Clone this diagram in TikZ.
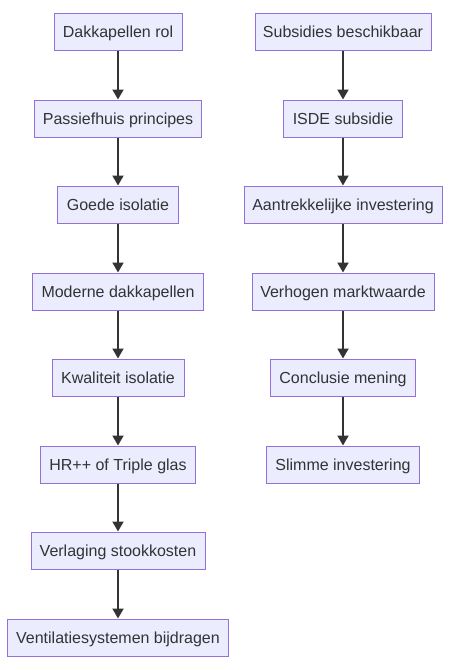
\documentclass[tikz,border=0pt]{standalone}
\usepackage{fontspec}
\setmainfont{Liberation Sans}
\usetikzlibrary{arrows.meta}
\definecolor{nodefill}{HTML}{ECECFF}
\definecolor{nodeline}{HTML}{9370DB}
\definecolor{txt}{HTML}{333333}
\tikzset{
  box/.style={draw=nodeline, fill=nodefill, line width=1pt, minimum height=37pt, inner sep=0pt, text height=11.5pt, text depth=0pt, text=txt, font=\fontsize{16pt}{19pt}\selectfont},
  conn/.style={draw=txt, line width=2pt, -{Triangle[width=11pt,length=10pt]}}
}
\begin{document}
\begin{tikzpicture}[x=1pt,y=-1pt]
\useasboundingbox (0,0) rectangle (458,670);
% left column
\node[box, minimum width=128pt] (l1) at (118,31.5) {Dakkapellen rol};
\node[box, minimum width=167pt] (l2) at (118,118.5) {Passiefhuis principes};
\node[box, minimum width=121pt] (l3) at (118,204.5) {Goede isolatie};
\node[box, minimum width=171pt] (l4) at (118,291.5) {Moderne dakkapellen};
\node[box, minimum width=132pt] (l5) at (118,377.5) {Kwaliteit isolatie};
\node[box, minimum width=155pt] (l6) at (118,464.5) {HR++ of Triple glas};
\node[box, minimum width=174pt] (l7) at (118,550.5) {Verlaging stookkosten};
\node[box, minimum width=221pt] (l8) at (118,637.5) {Ventilatiesystemen bijdragen};
% right column
\node[box, minimum width=176pt] (r1) at (343,31.5) {Subsidies beschikbaar};
\node[box, minimum width=119pt] (r2) at (343,118.5) {ISDE subsidie};
\node[box, minimum width=198pt] (r3) at (343,204.5) {Aantrekkelijke investering};
\node[box, minimum width=182pt] (r4) at (343,291.5) {Verhogen marktwaarde};
\node[box, minimum width=145pt] (r5) at (343,377.5) {Conclusie mening};
\node[box, minimum width=153pt] (r6) at (343,464.5) {Slimme investering};
% connectors
\foreach \a/\b in {l1/l2,l2/l3,l3/l4,l4/l5,l5/l6,l6/l7,l7/l8,r1/r2,r2/r3,r3/r4,r4/r5,r5/r6}
  \draw[conn] (\a) -- (\b);
\end{tikzpicture}
\end{document}
